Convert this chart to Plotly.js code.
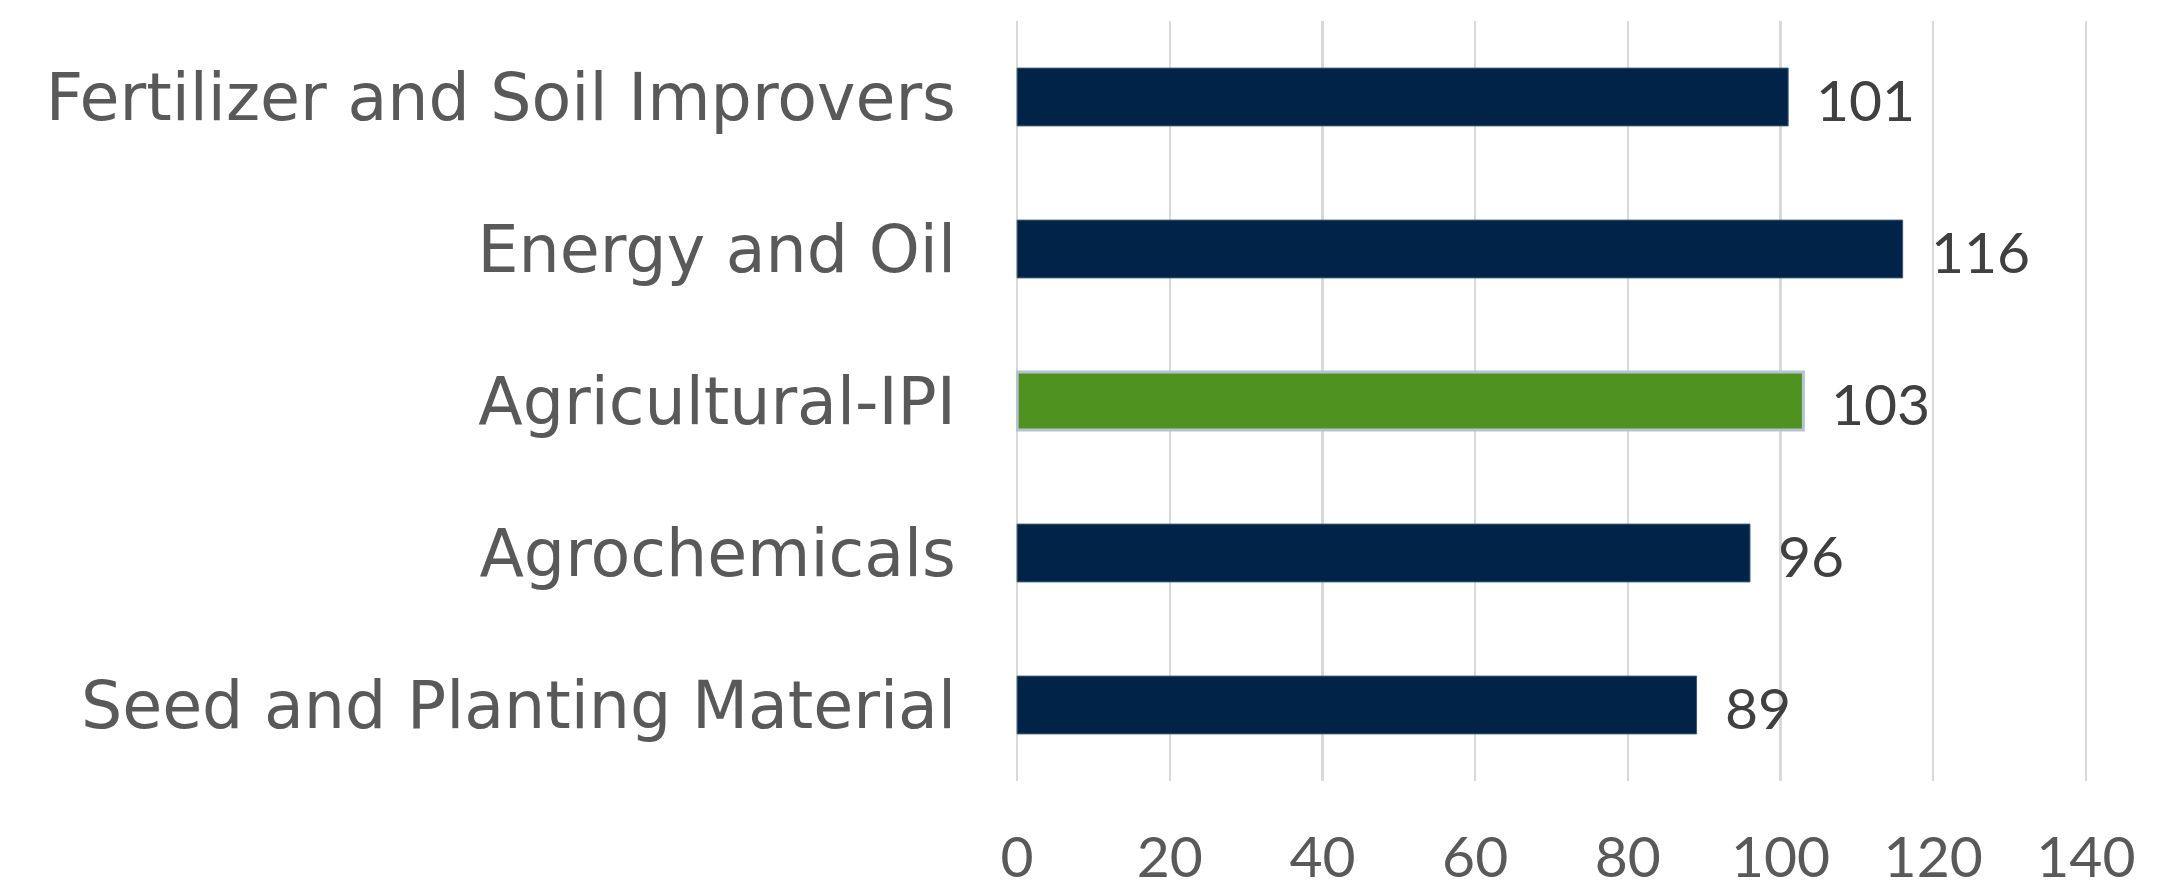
<!DOCTYPE html>
<html>
<head>
<meta charset="utf-8">
<script src="https://cdn.plot.ly/plotly-3.0.1.min.js"></script>
<style>
  html, body { margin: 0; padding: 0; background: #ffffff; }
  #chart { width: 2167px; height: 886px; }
</style>
</head>
<body>
<div id="chart"></div>
<script>
// Data (top-to-bottom order as shown in the chart)
var categories = [
  "Fertilizer and Soil Improvers",
  "Energy and Oil",
  "Agricultural-IPI",
  "Agrochemicals",
  "Seed and Planting Material"
];
var values = [101, 116, 103, 96, 89];
var tickValues = [0, 20, 40, 60, 80, 100, 120, 140];

var NAVY = "#002347";
var GREEN = "#4f9220";
var barColors = categories.map(function (c) { return c === "Agricultural-IPI" ? GREEN : NAVY; });
var lineColors = categories.map(function (c) { return c === "Agricultural-IPI" ? "#b7c3d5" : "#3b5878"; });
var lineWidths = categories.map(function (c) { return c === "Agricultural-IPI" ? 3 : 1; });

var trace = {
  type: "bar",
  orientation: "h",
  y: categories,
  x: values,
  marker: { color: barColors, line: { color: lineColors, width: lineWidths } },
  hoverinfo: "x+y"
};

var annotations = categories.map(function (c, i) {
  return {
    x: values[i], y: c, xref: "x", yref: "y",
    text: String(values[i]),
    showarrow: false, xanchor: "left", yanchor: "middle",
    xshift: 26, yshift: -2,
    font: { family: "Lato, 'Open Sans', sans-serif", size: 57, color: "#404040" }
  };
});

var layout = {
  width: 2167,
  height: 886,
  margin: { l: 1016, r: 80, t: 21, b: 105, pad: 0 },
  paper_bgcolor: "#ffffff",
  plot_bgcolor: "#ffffff",
  showlegend: false,
  bargap: 0.62,
  font: { family: "'DejaVu Sans', Verdana, sans-serif", color: "#595959" },
  xaxis: {
    range: [-0.15, 140.15],
    tickvals: tickValues,
    ticktext: tickValues.map(String),
    showgrid: true,
    gridcolor: "#d9d9d9",
    gridwidth: 2.5,
    zeroline: false,
    showline: false,
    ticks: "",
    ticklabelstandoff: 38,
    tickfont: { family: "Lato, 'Open Sans', sans-serif", size: 57, color: "#595959" },
    fixedrange: true
  },
  yaxis: {
    type: "category",
    autorange: "reversed",
    showgrid: false,
    zeroline: false,
    showline: false,
    ticks: "",
    ticklabelstandoff: 59,
    automargin: false,
    tickfont: { family: "'DejaVu Sans', Verdana, sans-serif", size: 65, color: "#595959" },
    fixedrange: true
  },
  annotations: annotations
};

Plotly.newPlot("chart", [trace], layout, { displayModeBar: false, staticPlot: true });
</script>
</body>
</html>
